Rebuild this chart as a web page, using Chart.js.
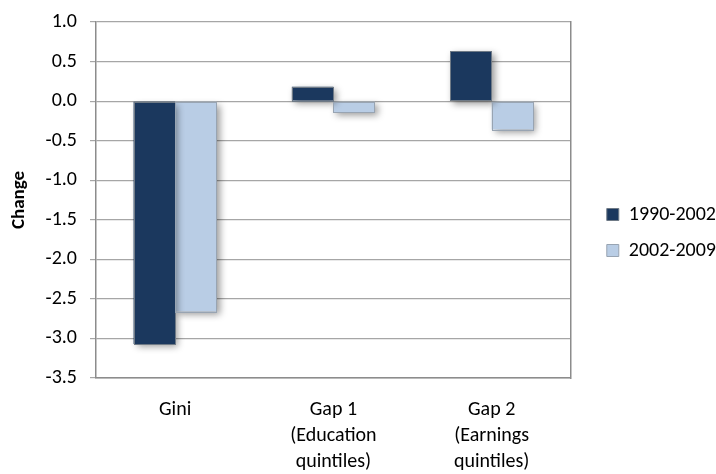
<!DOCTYPE html>
<html>
<head>
<meta charset="utf-8">
<script src="https://cdn.jsdelivr.net/npm/chart.js@4"></script>
<style>
  html, body { margin: 0; padding: 0; background: #fff; }
  #wrap { width: 716px; height: 474px; }
</style>
</head>
<body>
<div id="wrap"><canvas id="chart" width="716" height="474"></canvas></div>
<script>
// chart data
const categories = ['Gini', ['Gap 1', '(Education', 'quintiles)'], ['Gap 2', '(Earnings', 'quintiles)']];
const seriesNames = ['1990-2002', '2002-2009'];
const values1990 = [-3.07, 0.18, 0.63];
const values2002 = [-2.66, -0.14, -0.36];
const yTicks = [1.0, 0.5, 0.0, -0.5, -1.0, -1.5, -2.0, -2.5, -3.0, -3.5];

const fills = ['#1b385e', '#b9cde5'];
const edges = ['#6f7a86', '#98a4b2'];

Chart.defaults.font.family = 'Carlito, Lato, "Open Sans", sans-serif';
Chart.defaults.font.size = 20;
Chart.defaults.color = '#000';

// soft drop shadow under the bars, then a thin edge on top
const shadowPlugin = {
  id: 'barShadow',
  afterLayout(chart) {
    // legend sits a little above the canvas middle in the original
    chart.legend.bottom -= 31;
  },
  beforeDatasetsDraw(chart) {
    const ctx = chart.ctx;
    ctx.save();
    ctx.shadowColor = 'rgba(0,0,0,0.4)';
    ctx.shadowBlur = 7;
    ctx.shadowOffsetX = 3;
    ctx.shadowOffsetY = 3;
  },
  afterDatasetsDraw(chart) {
    const ctx = chart.ctx;
    ctx.restore();
    ctx.save();
    ctx.lineWidth = 1;
    chart.data.datasets.forEach((ds, i) => {
      ctx.strokeStyle = edges[i];
      chart.getDatasetMeta(i).data.forEach(bar => {
        const p = bar.getProps(['x', 'y', 'base', 'width'], true);
        const left = Math.round(p.x - p.width / 2) + 0.5;
        const top = Math.round(Math.min(p.y, p.base)) + 0.5;
        const h = Math.round(Math.abs(p.base - p.y));
        ctx.strokeRect(left, top, Math.round(p.width) - 1, h);
      });
    });
    ctx.restore();
  }
};

new Chart(document.getElementById('chart'), {
  type: 'bar',
  data: {
    labels: categories,
    datasets: [
      { label: seriesNames[0], data: values1990, backgroundColor: fills[0], borderWidth: 0 },
      { label: seriesNames[1], data: values2002, backgroundColor: fills[1], borderWidth: 0 }
    ]
  },
  options: {
    responsive: false,
    animation: false,
    layout: { padding: { left: 8, top: 22, right: -10, bottom: 0 } },
    datasets: {
      bar: { categoryPercentage: 0.525, barPercentage: 1.0 }
    },
    scales: {
      x: {
        grid: { display: false, tickLength: 0 },
        border: { color: '#8c8c8c', width: 1.5 },
        ticks: { padding: 19, font: { size: 20, lineHeight: 1.3 }, maxRotation: 0 },
        afterFit(scale) { scale.height = 96; }
      },
      y: {
        min: -3.5,
        max: 1.0,
        afterBuildTicks(scale) {
          scale.ticks = yTicks.map(v => ({ value: v }));
        },
        grid: { color: '#a6a6a6', lineWidth: 1.2, tickLength: 6 },
        border: { color: '#8c8c8c', width: 1.5 },
        ticks: {
          padding: 13,
          callback: v => Number(v).toFixed(1)
        },
        title: {
          display: true,
          text: 'Change',
          font: { size: 19, weight: 'bold' },
          padding: { top: 0, bottom: 0 }
        },
        afterFit(scale) {
          scale.width = 88;
          scale.paddingTop = 0;
          scale.paddingBottom = 0;
        }
      },
      yRight: {
        position: 'right',
        min: -3.5,
        max: 1.0,
        grid: { display: false, drawTicks: false },
        border: { color: '#8c8c8c', width: 1.5 },
        ticks: { display: false },
        afterFit(scale) { scale.width = 20; }
      }
    },
    plugins: {
      legend: {
        position: 'right',
        maxWidth: 200,
        labels: {
          boxWidth: 12,
          boxHeight: 12,
          padding: 16,
          font: { size: 20 },
          generateLabels(chart) {
            return chart.data.datasets.map((ds, i) => ({
              text: ds.label,
              fillStyle: fills[i],
              strokeStyle: edges[i],
              lineWidth: 1,
              datasetIndex: i,
              hidden: false
            }));
          }
        }
      },
      tooltip: { enabled: false }
    }
  },
  plugins: [shadowPlugin]
});
</script>
</body>
</html>
